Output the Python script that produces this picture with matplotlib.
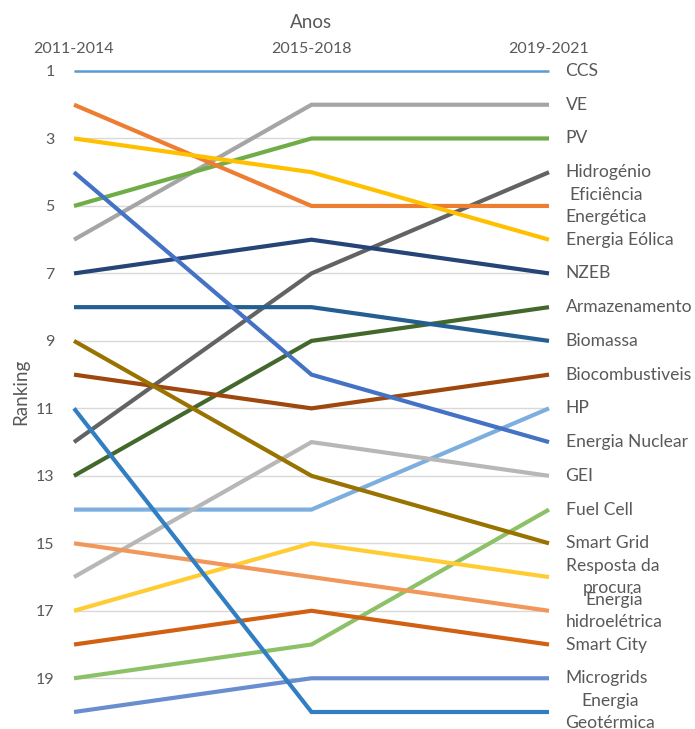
import matplotlib.pyplot as plt

plt.rcParams['font.family'] = ['Lato', 'DejaVu Sans']

periods = ["2011-2014", "2015-2018", "2019-2021"]

labels = ["CCS", "VE", "PV", "Hidrogénio", "Eficiência\nEnergética",
          "Energia Eólica", "NZEB", "Armazenamento", "Biomassa",
          "Biocombustiveis", "HP", "Energia Nuclear", "GEI", "Fuel Cell",
          "Smart Grid", "Resposta da\nprocura", "Energia\nhidroelétrica",
          "Smart City", "Microgrids", "Energia\nGeotérmica"]

rank_2011 = [1, 6, 5, 12, 2, 3, 7, 13, 8, 10, 14, 4, 16, 19, 9, 17, 15, 18, 20, 11]
rank_2015 = [1, 2, 3, 7, 5, 4, 6, 9, 8, 11, 14, 10, 12, 18, 13, 15, 16, 17, 19, 20]
rank_2019 = [1, 2, 3, 4, 5, 6, 7, 8, 9, 10, 11, 12, 13, 14, 15, 16, 17, 18, 19, 20]

colors = ["#5B9BD5", "#A5A5A5", "#70AD47", "#636363", "#ED7D31",
          "#FFC000", "#264478", "#43682B", "#255E91", "#9E480E",
          "#7CAFDD", "#4472C4", "#B7B7B7", "#8CC168", "#997300",
          "#FFCD33", "#F1975A", "#D26012", "#698ED0", "#327EC2"]

text_col = "#595959"

fig = plt.figure(figsize=(6.95, 7.29), dpi=100)
ax = fig.add_axes([74 / 695, 1 - 712 / 729, 475 / 695, 641 / 729])

# light horizontal grid at the labelled ranks
for r in range(1, 21, 2):
    ax.axhline(r, color="#D9D9D9", lw=1, zorder=0)

xs = range(len(periods))
for i, name in enumerate(labels):
    ys = [rank_2011[i], rank_2015[i], rank_2019[i]]
    lw = 1.8 if name == "CCS" else 3
    ax.plot(xs, ys, color=colors[i], lw=lw, solid_joinstyle="miter",
            solid_capstyle="butt", clip_on=False, zorder=2)
    ax.text(2.07, rank_2019[i], name, ha="left", va="center",
            multialignment="center", linespacing=1.45,
            fontsize=12.6, color=text_col)

ax.set_xlim(0, 2)
ax.set_ylim(20, 1)
ax.set_yticks(range(1, 21, 2))
ax.tick_params(axis="y", length=0, pad=14, labelsize=11.5, labelcolor=text_col)

ax.xaxis.tick_top()
ax.set_xticks(list(xs))
ax.set_xticklabels(periods)
ax.tick_params(axis="x", length=0, pad=11, labelsize=11.5, labelcolor=text_col)
ax.set_xlabel("Anos", fontsize=13.5, color=text_col, labelpad=10)
ax.xaxis.set_label_position("top")
ax.set_ylabel("Ranking", fontsize=13.5, color=text_col, labelpad=5)

for s in ax.spines.values():
    s.set_visible(False)

fig.savefig("out.png", dpi=100)
